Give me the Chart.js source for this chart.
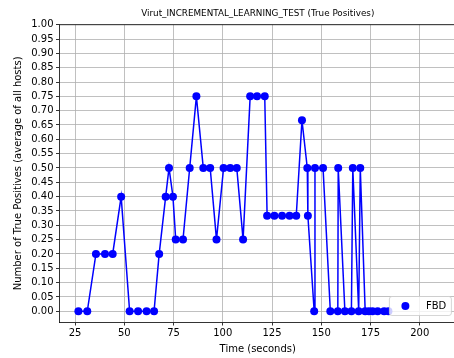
<!DOCTYPE html>
<html>
<head>
<meta charset="utf-8">
<script src="https://cdn.jsdelivr.net/npm/chart.js@4/dist/chart.umd.min.js"></script>
<style>
  html, body { margin: 0; padding: 0; background: #fff; }
  #wrap { width: 454px; height: 358px; overflow: hidden; }
  canvas { display: block; }
</style>
</head>
<body>
<div id="wrap"><canvas id="tpChart" width="460" height="358"></canvas></div>
<script>
const chartTitle = 'Virut_INCREMENTAL_LEARNING_TEST (True Positives)';
const seriesName = 'FBD';

// time (s) of each sample
const times = [26.7, 31.2, 35.6, 40.2, 44.1, 48.4, 52.7, 57.0, 61.3, 65.1,
  67.7, 71.0, 72.7, 74.7, 76.1, 79.8, 83.2, 86.6, 90.1, 93.6,
  96.8, 100.4, 103.8, 107.1, 110.3, 113.9, 117.4, 121.3, 122.5, 126.2,
  130.1, 133.9, 137.3, 140.2, 142.9, 143.2, 146.4, 146.8, 150.9, 154.6,
  158.4, 158.6, 162.0, 165.3, 166.0, 169.0, 169.8, 172.3, 174.2, 176.0,
  178.6, 181.9, 184.1];

// true positives, averaged over all hosts
const truePositives = [0, 0, 0.2, 0.2, 0.2, 0.4, 0, 0, 0, 0,
  0.2, 0.4, 0.5, 0.4, 0.25, 0.25, 0.5, 0.75, 0.5, 0.5,
  0.25, 0.5, 0.5, 0.5, 0.25, 0.75, 0.75, 0.75, 1/3, 1/3,
  1/3, 1/3, 1/3, 2/3, 0.5, 1/3, 0, 0.5, 0.5, 0,
  0, 0.5, 0, 0, 0.5, 0, 0.5, 0, 0, 0,
  0, 0, 0];

const FONT = 'DejaVu Sans';
const BLUE = '#0000ff';

// title above the plot, top spine and the legend box in the lower right
const framePlugin = {
  id: 'frame',
  afterDraw(chart) {
    const { ctx, chartArea: a } = chart;
    ctx.save();
    ctx.strokeStyle = '#000';
    ctx.lineWidth = 0.8;
    ctx.beginPath();
    ctx.moveTo(a.left, a.top);
    ctx.lineTo(a.right, a.top);
    ctx.stroke();

    ctx.fillStyle = '#000';
    ctx.font = '8.8px "' + FONT + '"';
    ctx.textAlign = 'center';
    ctx.textBaseline = 'middle';
    ctx.fillText(chartTitle, (a.left + a.right) / 2, 14);

    // legend
    const w = 62, h = 19;
    const x = a.right - 4.6 - w, y = a.bottom - 6.5 - h;
    ctx.beginPath();
    ctx.roundRect(x, y, w, h, 2.5);
    ctx.fillStyle = 'rgba(255,255,255,0.8)';
    ctx.fill();
    ctx.strokeStyle = '#cccccc';
    ctx.lineWidth = 0.8;
    ctx.stroke();
    ctx.beginPath();
    ctx.arc(x + 16, y + h / 2, 4, 0, Math.PI * 2);
    ctx.fillStyle = BLUE;
    ctx.fill();
    ctx.fillStyle = '#000';
    ctx.font = '10px "' + FONT + '"';
    ctx.textAlign = 'left';
    ctx.fillText(seriesName, x + 36.5, y + h / 2 + 0.5);
    ctx.restore();
  }
};

const ctx = document.getElementById('tpChart').getContext('2d');
new Chart(ctx, {
  type: 'line',
  data: {
    datasets: [{
      label: seriesName,
      data: times.map((t, i) => ({ x: t, y: truePositives[i] })),
      borderColor: BLUE,
      backgroundColor: BLUE,
      borderWidth: 1.5,
      pointRadius: 4,
      pointBorderWidth: 0,
      pointBackgroundColor: BLUE,
      tension: 0,
      fill: false
    }]
  },
  options: {
    responsive: false,
    animation: false,
    devicePixelRatio: 1,
    layout: { padding: { top: 24.7, right: 2.7, left: 0, bottom: 0 } },
    plugins: {
      legend: { display: false },
      title: { display: false },
      tooltip: { enabled: false }
    },
    scales: {
      x: {
        type: 'linear',
        min: 17.1,
        max: 218.4,
        afterFit: s => { s.height = 36; },
        grid: { color: '#b0b0b0', lineWidth: 0.8, tickLength: 3.5, tickColor: '#000' },
        border: { color: '#000', width: 0.8 },
        ticks: {
          stepSize: 25,
          includeBounds: false,
          autoSkip: false,
          color: '#000',
          padding: 2,
          maxRotation: 0,
          font: { family: FONT, size: 10 }
        },
        title: {
          display: true,
          text: 'Time (seconds)',
          color: '#000',
          font: { family: FONT, size: 10 },
          padding: { top: 0, bottom: 3 }
        }
      },
      y: {
        min: -0.0375,
        max: 1.0,
        afterFit: s => { s.width = 59.5; },
        grid: { color: '#b0b0b0', lineWidth: 0.8, tickLength: 3.5, tickColor: '#000' },
        border: { color: '#000', width: 0.8 },
        ticks: {
          stepSize: 0.05,
          includeBounds: false,
          autoSkip: false,
          color: '#000',
          padding: 2.5,
          font: { family: FONT, size: 10 },
          callback: v => Number(v).toFixed(2)
        },
        title: {
          display: true,
          text: 'Number of True Positives (average of all hosts)',
          color: '#000',
          font: { family: FONT, size: 10 },
          padding: { top: 12, bottom: 0 }
        }
      }
    }
  },
  plugins: [framePlugin]
});
</script>
</body>
</html>
